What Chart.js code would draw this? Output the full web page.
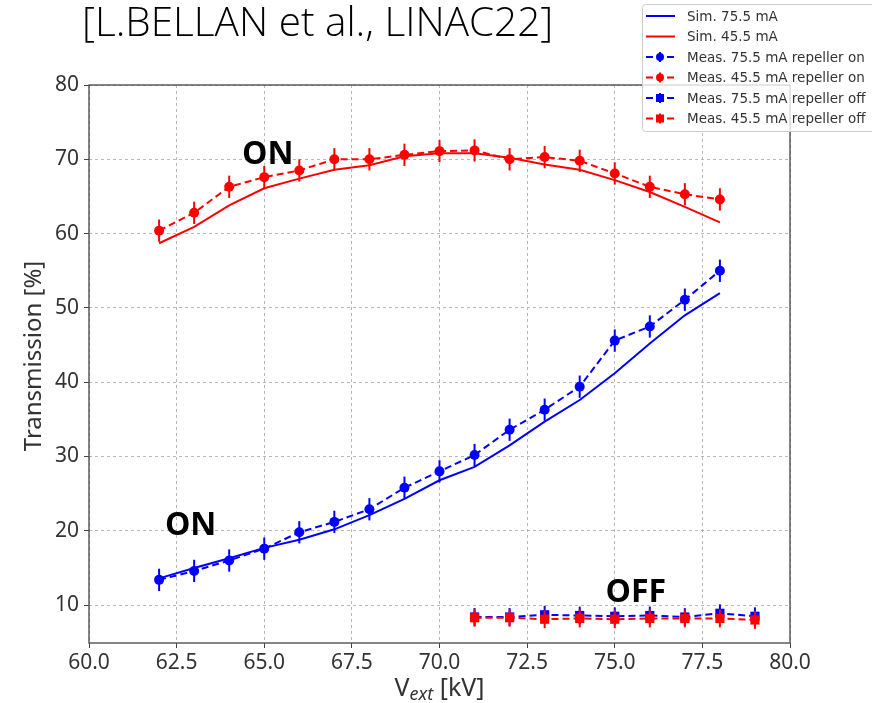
<!DOCTYPE html>
<html><head><meta charset="utf-8">
<script src="https://cdn.jsdelivr.net/npm/chart.js@4.4.0/dist/chart.umd.min.js"></script>
<style>html,body{margin:0;padding:0;background:#fff}#wrap{width:872px;height:703px}</style>
</head><body><div id="wrap"><canvas id="c" width="872" height="703"></canvas></div>
<script>
// ---- data ----
const xOn = [62,63,64,65,66,67,68,69,70,71,72,73,74,75,76,77,78];
const simBlue = [13.6,15.0,16.3,17.7,18.8,20.2,22.1,24.3,26.8,28.6,31.5,34.7,37.6,41.2,45.2,49.0,52.0];
const simRed  = [58.7,60.9,63.8,66.1,67.4,68.6,69.2,70.4,70.8,70.8,70.2,69.3,68.6,67.2,65.6,63.6,61.5];
const measBlueOn = [13.4,14.6,16.0,17.6,19.8,21.2,22.9,25.8,28.0,30.2,33.6,36.3,39.4,45.6,47.5,51.1,55.0];
const measRedOn  = [60.4,62.8,66.3,67.6,68.5,70.0,70.0,70.6,71.1,71.2,70.0,70.3,69.8,68.1,66.3,65.3,64.6];
const errOn = [1.5,1.5,1.5,1.5,1.5,1.5,1.5,1.5,1.5,1.5,1.5,1.5,1.5,1.5,1.5,1.5,1.5];
const xOff = [71,72,73,74,75,76,77,78,79];
const measBlueOff = [8.4,8.4,8.7,8.6,8.5,8.6,8.4,8.9,8.5];
const measRedOff  = [8.3,8.3,8.1,8.2,8.1,8.2,8.2,8.2,8.0];
const errOff = [1.2,1.2,1.2,1.2,1.2,1.2,1.2,1.2,1.2];
const yTicks = [10,20,30,40,50,60,70,80];
const legendLabels = ['Sim. 75.5 mA','Sim. 45.5 mA','Meas. 75.5 mA repeller on','Meas. 45.5 mA repeller on','Meas. 75.5 mA repeller off','Meas. 45.5 mA repeller off'];
const titleText = '[L.BELLAN et al., LINAC22]';
const notes = [{t:'ON', x:65.1, y:70.6},{t:'ON', x:62.9, y:20.6},{t:'OFF', x:75.6, y:11.6}];

const BLUE='#0000ff', RED='#ff0000';
const pts = (xs, ys) => xs.map((x,i)=>({x:x, y:ys[i]}));

const datasets = [
  {label:legendLabels[0], data:pts(xOn,simBlue), borderColor:BLUE, borderWidth:2, pointRadius:0, order:5},
  {label:legendLabels[1], data:pts(xOn,simRed), borderColor:RED, borderWidth:2, pointRadius:0, order:4},
  {label:legendLabels[2], data:pts(xOn,measBlueOn), errs:errOn, borderColor:BLUE, backgroundColor:BLUE, borderWidth:2, borderDash:[7,4], pointStyle:'circle', pointRadius:5, pointBorderWidth:0, order:3},
  {label:legendLabels[3], data:pts(xOn,measRedOn), errs:errOn, borderColor:RED, backgroundColor:RED, borderWidth:2, borderDash:[7,4], pointStyle:'circle', pointRadius:5, pointBorderWidth:0, order:2},
  {label:legendLabels[4], data:pts(xOff,measBlueOff), errs:errOff, borderColor:BLUE, backgroundColor:BLUE, borderWidth:2, borderDash:[7,4], pointStyle:'rect', pointRadius:6.5, pointBorderWidth:0, order:1},
  {label:legendLabels[5], data:pts(xOff,measRedOff), errs:errOff, borderColor:RED, backgroundColor:RED, borderWidth:2, borderDash:[7,4], pointStyle:'rect', pointRadius:6.5, pointBorderWidth:0, order:0}
];

const errPlugin = {
  id:'errbars',
  afterDatasetDraw(chart, args){
    const ds = chart.data.datasets[args.index];
    if(!ds.errs) return;
    const xs = chart.scales.x, ys = chart.scales.y, ctx = chart.ctx;
    ctx.save();
    ctx.strokeStyle = ds.borderColor; ctx.lineWidth = 2; ctx.setLineDash([]);
    ds.data.forEach((p,i)=>{
      const px = xs.getPixelForValue(p.x);
      ctx.beginPath();
      ctx.moveTo(px, ys.getPixelForValue(p.y - ds.errs[i]));
      ctx.lineTo(px, ys.getPixelForValue(p.y + ds.errs[i]));
      ctx.stroke();
    });
    ctx.restore();
  }
};

const decoPlugin = {
  id:'deco',
  afterDraw(chart){
    const ctx = chart.ctx, a = chart.chartArea, xs = chart.scales.x, ys = chart.scales.y;
    ctx.save();
    // frame
    ctx.strokeStyle = '#444'; ctx.lineWidth = 1.3; ctx.setLineDash([]);
    ctx.strokeRect(a.left, a.top, a.right - a.left, a.bottom - a.top);
    // annotations
    ctx.fillStyle = '#000'; ctx.font = 'bold 32px "Open Sans", "Noto Sans"'; ctx.textAlign='center'; ctx.textBaseline='middle';
    notes.forEach(n => ctx.fillText(n.t, xs.getPixelForValue(n.x), ys.getPixelForValue(n.y)));
    // axis titles
    ctx.fillStyle = '#333';
    ctx.save();
    ctx.translate(34, 356); ctx.rotate(-Math.PI/2);
    ctx.font = '24px "Noto Sans"'; ctx.textAlign='center'; ctx.textBaseline='middle';
    ctx.fillText('Transmission [%]', 0, 0);
    ctx.restore();
    ctx.textBaseline='alphabetic'; ctx.textAlign='left';
    const f1 = '25px "Noto Sans"', f2 = 'italic 18px "Noto Sans"';
    ctx.font = f1; const wV = ctx.measureText('V').width; const wR = ctx.measureText(' [kV]').width;
    ctx.font = f2; const wS = ctx.measureText('ext').width;
    let x0 = (a.left + a.right)/2 - (wV+wS+wR)/2; const by = 696;
    ctx.font = f1; ctx.fillText('V', x0, by);
    ctx.font = f2; ctx.fillText('ext', x0+wV, by+4);
    ctx.font = f1; ctx.fillText(' [kV]', x0+wV+wS, by);
    // title (fit to width)
    ctx.fillStyle = '#000';
    ctx.font = '300 36px "Open Sans", "Noto Sans"';
    const tw = ctx.measureText(titleText).width;
    const fs = 36 * 471 / tw;
    ctx.font = '300 ' + fs.toFixed(1) + 'px "Open Sans", "Noto Sans"';
    ctx.fillText(titleText, 82, 36);
    // legend
    const lx = 642, ly = 4, lw = 240, lh = 127;
    ctx.fillStyle = 'rgba(255,255,255,0.8)'; ctx.strokeStyle = '#cccccc'; ctx.lineWidth = 1;
    ctx.beginPath(); ctx.roundRect(lx+0.5, ly+0.5, lw, lh, 3); ctx.fill(); ctx.stroke();
    ctx.font = '13.5px "DejaVu Sans"'; ctx.textBaseline='middle';
    chart.data.datasets.forEach((ds,i)=>{
      const y = 16 + i*20.5;
      ctx.strokeStyle = ds.borderColor; ctx.fillStyle = ds.borderColor; ctx.lineWidth = 2;
      ctx.setLineDash([]);
      if(ds.borderDash){
        ctx.beginPath(); ctx.moveTo(646,y); ctx.lineTo(653,y); ctx.moveTo(667,y); ctx.lineTo(674,y); ctx.stroke();
        ctx.beginPath(); ctx.moveTo(660,y-5); ctx.lineTo(660,y+5); ctx.stroke();
        if(ds.pointStyle==='rect'){ ctx.fillRect(656,y-4,8,8);} else { ctx.beginPath(); ctx.arc(660,y,4,0,Math.PI*2); ctx.fill(); }
      } else {
        ctx.beginPath(); ctx.moveTo(646,y); ctx.lineTo(675,y); ctx.stroke();
      }
      ctx.fillStyle = '#333';
      ctx.fillText(ds.label, 687, y+1);
    });
    ctx.restore();
  }
};

new Chart(document.getElementById('c'), {
  type:'line',
  data:{datasets},
  options:{
    responsive:false, animation:false,
    layout:{padding:{left:0, right:82, top:85, bottom:0}},
    plugins:{legend:{display:false}, tooltip:{enabled:false}},
    scales:{
      x:{type:'linear', min:60, max:80,
        ticks:{stepSize:2.5, color:'#333', font:{family:'Noto Sans', size:21}, padding:2, maxRotation:0, callback:v=>v.toFixed(1)},
        grid:{color:'#b8b8b8', tickColor:'#444', tickLength:5, tickBorderDash:[0,0]},
        border:{display:false, dash:[3,3]},
        afterFit(s){ s.height = 60; }
      },
      y:{type:'linear', min:4.9, max:80,
        afterBuildTicks(s){ s.ticks = yTicks.map(v=>({value:v})); },
        ticks:{color:'#333', font:{family:'Noto Sans', size:21}, padding:5},
        grid:{color:'#b8b8b8', tickColor:'#444', tickLength:5, tickBorderDash:[0,0]},
        border:{display:false, dash:[3,3]},
        afterFit(s){ s.width = 89; }
      }
    }
  },
  plugins:[errPlugin, decoPlugin]
});
</script></body></html>
